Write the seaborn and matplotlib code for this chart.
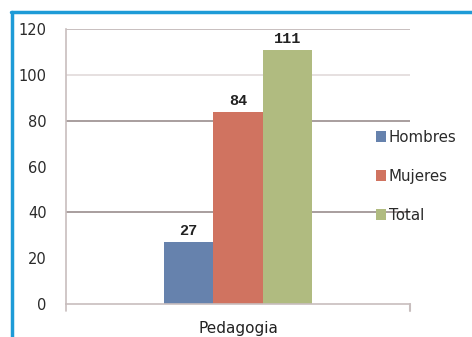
import matplotlib
matplotlib.use("Agg")
import matplotlib.pyplot as plt
import seaborn as sns
import pandas as pd
from matplotlib.patches import Patch
from matplotlib.lines import Line2D

# Data
categories = ["Pedagogia"]
series = ["Hombres", "Mujeres", "Total"]
values = [27, 84, 111]
colors = ["#6682AD", "#D07360", "#B0BB80"]
yticks = [0, 20, 40, 60, 80, 100, 120]

df = pd.DataFrame({
    "carrera": categories * len(series),
    "grupo": series,
    "valor": values,
})

sns.set_style("white")
plt.rcParams["font.family"] = ["DejaVu Sans"]

fig = plt.figure(figsize=(4.72, 3.37), dpi=100)
ax = fig.add_axes([0.1398, 0.0979, 0.7288, 0.816])

sns.barplot(data=df, x="carrera", y="valor", hue="grupo",
            palette=colors, width=0.43, saturation=1,
            edgecolor="none", legend=False, ax=ax)

ax.set_ylim(0, 120)
ax.set_xlim(-0.5, 0.5)
ax.set_yticks(yticks)
ax.set_yticklabels([str(t) for t in yticks], fontsize=10.5, color="#2A2A2A")
ax.tick_params(axis="y", length=5, width=1, color="#C8BEBE", pad=9)
ax.tick_params(axis="x", length=0, pad=12, labelsize=11, labelcolor="#222222")
ax.set_xlabel("")
ax.set_ylabel("")

# horizontal gridlines
for t, c in [(40, "#9A8E8E"), (80, "#9A8E8E"), (100, "#E2DADA"), (120, "#BFB4B4")]:
    ax.axhline(t, color=c, lw=1.2, zorder=0)

for s in ["top", "right"]:
    ax.spines[s].set_visible(False)
ax.spines["left"].set_color("#C8BEBE")
ax.spines["bottom"].set_color("#C8BEBE")
ax.spines["left"].set_linewidth(1.2)
ax.spines["bottom"].set_linewidth(1.2)
ax.plot([0.5, 0.5], [0, -3], color="#C8BEBE", lw=1.5, clip_on=False)
ax.plot([-0.5, -0.5], [0, -3], color="#C8BEBE", lw=1.2, clip_on=False)

# value labels
for patch, v in zip(ax.patches, values):
    ax.text(patch.get_x() + patch.get_width() / 2, patch.get_height() + 1.6,
            str(v), ha="center", va="bottom", fontsize=11, fontweight="bold",
            family="Liberation Mono", color="#222222")

handles = [Patch(facecolor=c, edgecolor="none") for c in colors]
leg = fig.legend(handles, series, loc="upper left",
                 bbox_to_anchor=(0.768, 0.655), frameon=False,
                 handlelength=0.7, handleheight=0.7, handletextpad=0.15,
                 labelspacing=1.6, fontsize=10.8)
for t in leg.get_texts():
    t.set_color("#2A2A2A")

# outer blue frame
fig.add_artist(Line2D([0.025, 0.025], [0.0, 0.963], color="#1E9BD7", lw=2.5,
                      transform=fig.transFigure))
fig.add_artist(Line2D([0.023, 1.0], [0.963, 0.963], color="#1E9BD7", lw=2.5,
                      transform=fig.transFigure))

fig.savefig("out.png", dpi=100)
